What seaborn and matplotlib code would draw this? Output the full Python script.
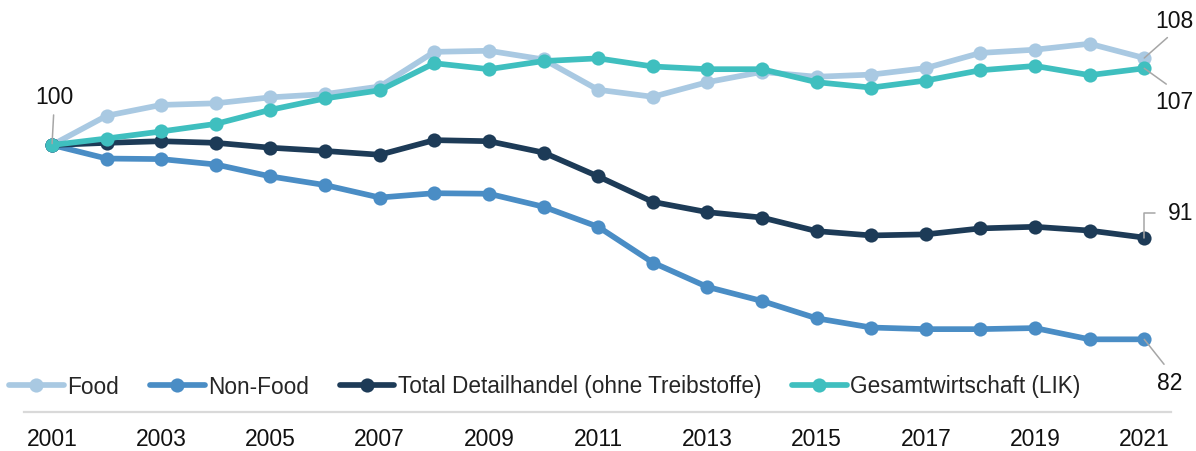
import matplotlib
matplotlib.use("Agg")
import matplotlib.pyplot as plt
import seaborn as sns
import pandas as pd

years = list(range(2001, 2022))
series_names = ["Food", "Non-Food", "Total Detailhandel (ohne Treibstoffe)", "Gesamtwirtschaft (LIK)"]
food = [100.0, 102.7, 103.7, 103.85, 104.4, 104.7, 105.4, 108.6, 108.7, 107.9, 105.1,
        104.45, 105.8, 106.75, 106.3, 106.5, 107.1, 108.5, 108.8, 109.35, 108.03]
non_food = [100.0, 98.75, 98.7, 98.2, 97.1, 96.3, 95.15, 95.55, 95.5, 94.3, 92.45,
            89.15, 86.9, 85.6, 84.0, 83.15, 83.0, 83.0, 83.1, 82.06, 82.06]
total = [100.0, 100.2, 100.35, 100.2, 99.75, 99.45, 99.1, 100.45, 100.35, 99.3, 97.1,
         94.75, 93.8, 93.3, 92.05, 91.65, 91.75, 92.3, 92.45, 92.1, 91.45]
lik = [100.0, 100.6, 101.25, 101.95, 103.25, 104.3, 105.05, 107.55, 107.0, 107.75, 108.0,
       107.25, 107.0, 107.0, 105.8, 105.3, 105.95, 106.9, 107.3, 106.45, 107.08]
colors = ["#a9c9e2", "#4a8dc5", "#1d3b57", "#3fbfbf"]
xtick_years = list(range(2001, 2022, 2))

df = pd.DataFrame({
    "Jahr": years * 4,
    "Index": food + non_food + total + lik,
    "Serie": sum([[n] * len(years) for n in series_names], []),
})

sns.set_theme(style="white")
plt.rcParams["font.family"] = ["Liberation Sans", "DejaVu Sans"]

fig = plt.figure(figsize=(11.96, 4.52), dpi=100)
ax = fig.add_axes([24 / 1196, 39 / 452, (1171 - 24) / 1196, 413 / 452])

sns.lineplot(data=df, x="Jahr", y="Index", hue="Serie", hue_order=series_names,
             palette=colors, marker="o", markersize=10.2, markeredgewidth=0,
             linewidth=4.1, ax=ax, legend=True)

ax.set_xlim(2000.487, 2021.49)
ax.set_ylim(75.35, 113.48)
ax.set_xticks(xtick_years)
ax.set_xticklabels([str(y) for y in xtick_years])
ax.set_yticks([])
ax.set_xlabel("")
ax.set_ylabel("")
ax.tick_params(axis="x", length=0, pad=11, labelsize=16.5, colors="#111111")
for s in ["top", "right", "left"]:
    ax.spines[s].set_visible(False)
ax.spines["bottom"].set_color("#d9d9d9")
ax.spines["bottom"].set_linewidth(1.6)

handles, labels = ax.get_legend_handles_labels()
ax.get_legend().remove()
fig.legend(handles, labels, loc="center left", bbox_to_anchor=(9 / 1196, 1 - 387 / 452),
           ncol=4, frameon=False, fontsize=16.3, handlelength=2.42, handletextpad=0.16,
           columnspacing=1.35, borderpad=0, borderaxespad=0)

grey = "#a6a6a6"
txt_kw = dict(textcoords="offset pixels", ha="center", va="center", fontsize=16.5,
              color="#111111", annotation_clip=False)

ax.annotate(f"{food[0]:.0f}", xy=(years[0], food[0]), xytext=(2, 49),
            arrowprops=dict(arrowstyle="-", color=grey, lw=1.1, relpos=(0.5, 0),
                            shrinkA=3, shrinkB=1), **txt_kw)
ax.annotate(f"{food[-1]:.0f}", xy=(years[-1], food[-1]), xytext=(30, 38),
            arrowprops=dict(arrowstyle="-", color=grey, lw=1.1, relpos=(0.5, 0),
                            shrinkA=3, shrinkB=0), **txt_kw)
ax.annotate(f"{lik[-1]:.0f}", xy=(years[-1], lik[-1]), xytext=(30, -33),
            arrowprops=dict(arrowstyle="-", color=grey, lw=1.1, relpos=(0.5, 1),
                            shrinkA=3, shrinkB=0), **txt_kw)
ax.annotate(f"{total[-1]:.0f}", xy=(years[-1], total[-1]), xytext=(36.5, 25),
            arrowprops=dict(arrowstyle="-", color=grey, lw=1.1, relpos=(0, 0.5),
                            connectionstyle="angle,angleA=180,angleB=90,rad=0",
                            shrinkA=7, shrinkB=0), **txt_kw)
ax.annotate(f"{non_food[-1]:.0f}", xy=(years[-1], non_food[-1]), xytext=(25, -43),
            arrowprops=dict(arrowstyle="-", color=grey, lw=1.1, relpos=(0.5, 1),
                            shrinkA=3, shrinkB=0), **txt_kw)

fig.savefig("out.png", dpi=100)
